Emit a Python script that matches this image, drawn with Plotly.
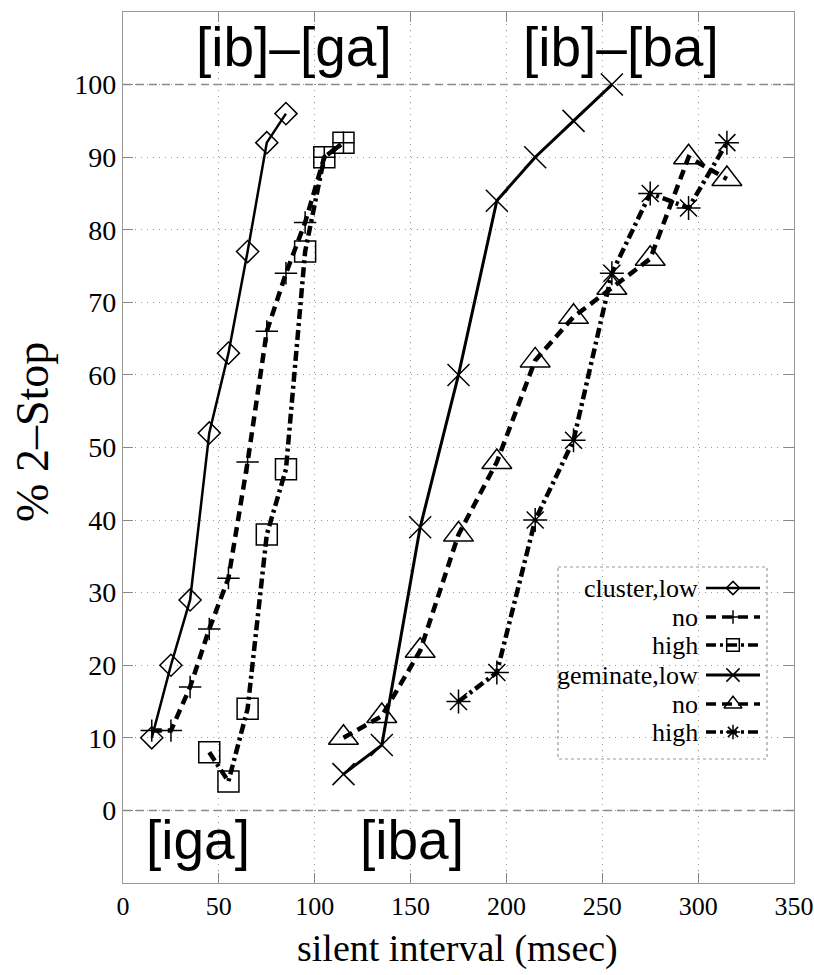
import plotly.graph_objects as go

# ---------------- data ----------------
cluster_low_x = [15, 25, 35, 45, 55, 65, 75, 85]
cluster_low_y = [10, 20, 29, 52, 63, 77, 92, 96]

cluster_no_x = [15, 25, 35, 45, 55, 65, 75, 85, 95, 105, 115]
cluster_no_y = [11, 11, 17, 25, 32, 48, 66, 74, 81, 90, 92]

cluster_high_x = [45, 55, 65, 75, 85, 95, 105, 115]
cluster_high_y = [8, 4, 14, 38, 47, 77, 90, 92]

gem_low_x = [115, 135, 155, 175, 195, 215, 235, 255]
gem_low_y = [5, 9, 39, 60, 84, 90, 95, 100]

gem_no_x = [115, 135, 155, 175, 195, 215, 235, 255, 275, 295, 315]
gem_no_y = [10, 13, 22, 38, 48, 62, 68, 72, 76, 90, 87]

gem_high_x = [175, 195, 215, 235, 255, 275, 295, 315]
gem_high_y = [15, 19, 40, 51, 74, 85, 83, 92]

x_ticks = [0, 50, 100, 150, 200, 250, 300, 350]
y_ticks = [0, 10, 20, 30, 40, 50, 60, 70, 80, 90, 100]

legend_labels = ["cluster,low", "no", "high", "geminate,low", "no", "high"]

# ---------------- styles ----------------
styles = [
    dict(symbol="diamond-open", size=17, dash="solid", width=2.5),
    dict(symbol="cross-thin-open", size=16, dash="10px,6px", width=4.5),
    dict(symbol="square-open", size=21, dash="10px,4px,3px,4px", width=4.5),
    dict(symbol="x-thin-open", size=22, dash="solid", width=3),
    dict(symbol="triangle-up-open", size=26, dash="10px,6px", width=4.5),
    dict(symbol="asterisk-open", size=20, dash="10px,4px,3px,4px", width=4.5),
]
series = [
    (cluster_low_x, cluster_low_y),
    (cluster_no_x, cluster_no_y),
    (cluster_high_x, cluster_high_y),
    (gem_low_x, gem_low_y),
    (gem_no_x, gem_no_y),
    (gem_high_x, gem_high_y),
]

SERIF = "Liberation Serif, Times New Roman, serif"
SANS = "Liberation Sans, Arial, sans-serif"

# plot-area pixel box (page coordinates)
PX_L, PX_R, PX_T, PX_B = 123, 794, 12, 883

fig = go.Figure()

for (xs, ys), st in zip(series, styles):
    fig.add_trace(go.Scatter(
        x=xs, y=ys, mode="lines+markers", showlegend=False,
        line=dict(color="black", width=st["width"], dash=st["dash"]),
        marker=dict(symbol=st["symbol"], size=st["size"], color="black",
                    line=dict(color="black", width=1.5)),
        cliponaxis=False,
    ))

# ---- custom legend (text left, sample right) in a pixel-like overlay axis ----
row_y = [588, 617, 645, 675, 704, 732]
for lab, st, ry in zip(legend_labels, styles, row_y):
    fig.add_trace(go.Scatter(
        x=[706, 760], y=[ry, ry], mode="lines", xaxis="x2", yaxis="y2",
        showlegend=False, hoverinfo="skip",
        line=dict(color="black", width=min(st["width"], 3.5), dash=st["dash"]),
    ))
    fig.add_trace(go.Scatter(
        x=[733], y=[ry], mode="markers", xaxis="x2", yaxis="y2",
        showlegend=False, hoverinfo="skip",
        marker=dict(symbol=st["symbol"], size=st["size"] * 0.6, color="black",
                    line=dict(color="black", width=1.5)),
    ))
    fig.add_annotation(x=700, y=ry, xref="x2", yref="y2", text=lab,
                       showarrow=False, xanchor="right", yanchor="middle",
                       font=dict(family=SERIF, size=26, color="black"))

fig.add_shape(type="rect", xref="x2", yref="y2", x0=558, x1=767, y0=567, y1=759,
              line=dict(color="#999999", width=1.2, dash="dot"))

# dashed reference lines at 0 and 100
for yv in (0, 100):
    fig.add_shape(type="line", xref="x", yref="y", x0=0, x1=350, y0=yv, y1=yv,
                  line=dict(color="#888888", width=1.5, dash="8px,5px"), layer="below")

# text labels inside the plot
for txt, xv, yv in [("[ib]–[ga]", 89, 105.2), ("[ib]–[ba]", 260, 105.2),
                    ("[iga]", 39, -4.1), ("[iba]", 151, -4.1)]:
    fig.add_annotation(x=xv, y=yv, xref="x", yref="y", text=txt, showarrow=False,
                       xanchor="center", yanchor="middle",
                       font=dict(family=SANS, size=55, color="black"))

# axis titles
fig.add_annotation(x=0.4985, y=-0.075, xref="paper", yref="paper",
                   text="silent interval (msec)", showarrow=False,
                   xanchor="center", yanchor="middle",
                   font=dict(family=SERIF, size=38, color="black"))
fig.add_annotation(x=-0.134, y=0.518, xref="paper", yref="paper",
                   text="% 2–Stop", showarrow=False, textangle=-90,
                   xanchor="center", yanchor="middle",
                   font=dict(family=SERIF, size=46, color="black"))

fig.update_layout(
    width=814, height=975, autosize=False,
    margin=dict(l=PX_L, r=814 - PX_R, t=PX_T, b=975 - PX_B, autoexpand=False),
    plot_bgcolor="white", paper_bgcolor="white",
    showlegend=False,
    xaxis=dict(range=[0, 350], tickvals=x_ticks, ticks="inside", ticklen=10,
               tickcolor="#888888", showline=True, linecolor="#999999", linewidth=1.2,
               mirror="ticks", showgrid=True, gridcolor="#999999", griddash="1px,5px",
               gridwidth=1, zeroline=False, ticklabeloverflow="allow", automargin=False,
               tickfont=dict(family=SERIF, size=26, color="black")),
    yaxis=dict(range=[-10, 110], tickvals=y_ticks, ticks="inside", ticklen=10,
               tickcolor="#888888", showline=True, linecolor="#999999", linewidth=1.2,
               mirror="ticks", showgrid=True, gridcolor="#999999", griddash="1px,5px",
               gridwidth=1, zeroline=False, automargin=False,
               tickfont=dict(family=SERIF, size=28, color="black")),
    xaxis2=dict(overlaying="x", range=[PX_L, PX_R], visible=False, fixedrange=True,
                automargin=False),
    yaxis2=dict(overlaying="y", range=[PX_B, PX_T], visible=False, fixedrange=True,
                automargin=False),
)

fig.write_html("out.html", config={"displayModeBar": False},
               post_script="document.body.style.margin='0';document.body.style.overflow='hidden';")
